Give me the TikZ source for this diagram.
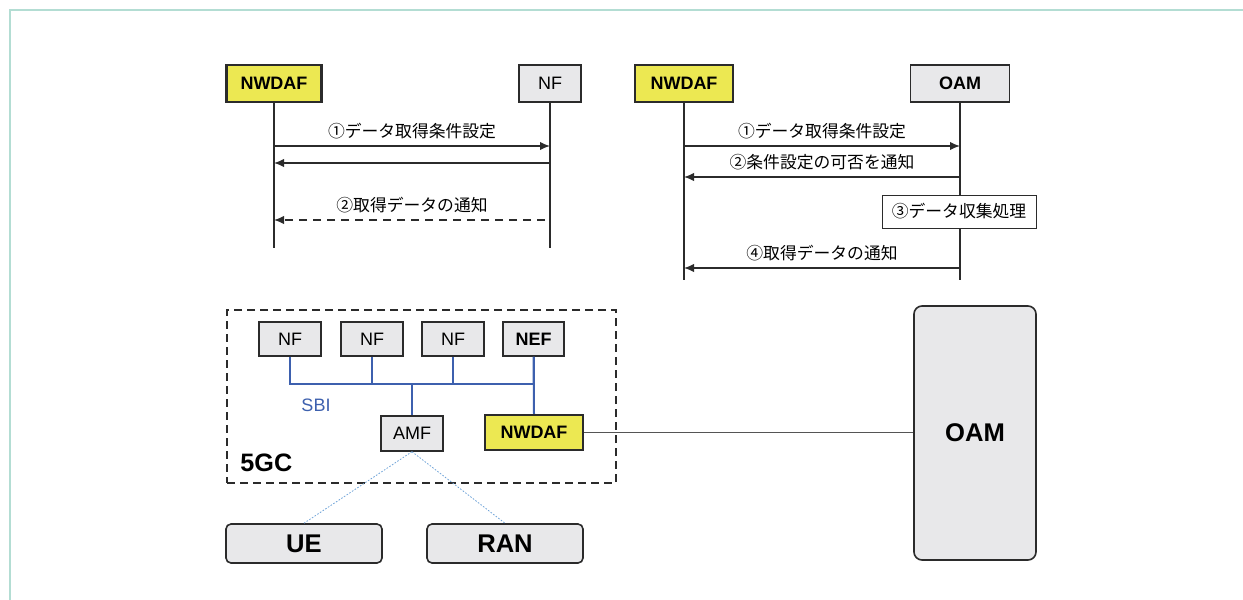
\documentclass[tikz,border=0pt]{standalone}
\usepackage{fontspec}
\setmainfont{Liberation Sans}
\newfontfamily\jp{Noto Sans CJK JP}
\usetikzlibrary{arrows.meta}
\definecolor{nwyellow}{HTML}{ECE852}
\definecolor{nfgray}{HTML}{E8E8EA}
\definecolor{edge}{HTML}{2B2B2B}
\definecolor{sbiblue}{HTML}{3D60AE}
\definecolor{linkblue}{HTML}{6FA3D8}
\definecolor{framegreen}{HTML}{B3DDD3}

\begin{document}
\begin{tikzpicture}[x=0.5pt, y=-0.5pt, >={Latex[length=5pt,width=4.2pt]},
    box/.style={draw=edge, line width=0.7pt, fill=nfgray, inner sep=0pt,
        font=\fontsize{9}{10}\selectfont},
    hl/.style={box, fill=nwyellow, line width=1.1pt, font=\fontsize{9}{10}\selectfont\bfseries},
    bold/.style={font=\fontsize{9}{10}\selectfont\bfseries},
    term/.style={draw=edge, line width=0.8pt, fill=nfgray, rounded corners=2.5pt,
        inner sep=0pt, font=\fontsize{12.8}{14}\selectfont\bfseries},
    life/.style={draw=edge, line width=0.55pt},
    msg/.style={->, draw=edge, line width=0.7pt},
    jlbl/.style={font=\jp\fontsize{8.4}{9}\selectfont, inner sep=1.3pt, above=2pt},
    sbi/.style={draw=sbiblue, line width=1pt},
    radio/.style={draw=linkblue, line width=0.4pt, dash pattern=on 0.8pt off 0.8pt},
    oamlink/.style={draw=edge!80, line width=0.5pt}]
  \useasboundingbox (0,0) rectangle (1243,600);
  \draw[framegreen, line width=1pt] (1243,10) -- (10,10) -- (10,600);

  \node[hl, minimum width=47.5pt, minimum height=18.5pt] (nwdafA) at (274,83.5) {NWDAF};
  \node[box, minimum width=31pt, minimum height=18.5pt] (nfA) at (550,83.5) {NF};
  \coordinate (nwdafAend) at (274,248);
  \coordinate (nfAend) at (550,248);
  \draw[life] (nwdafA) -- (nwdafAend);
  \draw[life] (nfA) -- (nfAend);
  \draw[msg] (nwdafA |- 0,146) -- (nfA |- 0,146) node[jlbl, midway] {①データ取得条件設定};
  \draw[msg] (nfA |- 0,163) -- (nwdafA |- 0,163);
  \draw[msg, dash pattern=on 4pt off 3pt, shorten <=2.5pt] (nfA |- 0,220) -- (nwdafA |- 0,220)
    node[jlbl, midway] {②取得データの通知};

  \node[hl, minimum width=49pt, minimum height=18.5pt] (nwdafB) at (684,83.5) {NWDAF};
  \node[box, bold, minimum width=49.5pt, minimum height=18.5pt] (oamA) at (960,83.5) {OAM};
  \coordinate (nwdafBend) at (684,280);
  \coordinate (oamAend) at (960,280);
  \draw[life] (nwdafB) -- (nwdafBend);
  \draw[life] (oamA) -- (oamAend);
  \draw[msg] (nwdafB |- 0,146) -- (oamA |- 0,146) node[jlbl, midway] {①データ取得条件設定};
  \draw[msg] (oamA |- 0,177) -- (nwdafB |- 0,177) node[jlbl, midway] {②条件設定の可否を通知};
  \node[draw=edge, line width=0.5pt, fill=white, minimum width=77pt, minimum height=16.5pt,
    inner sep=0pt, font=\jp\fontsize{8.4}{9}\selectfont] (proc) at (959,211.5) {③データ収集処理};
  \draw[msg] (oamA |- 0,268) -- (nwdafB |- 0,268) node[jlbl, midway] {④取得データの通知};

  \node[draw=edge, line width=0.75pt, dash pattern=on 4pt off 2.5pt, minimum width=194.5pt,
    minimum height=86.5pt, inner sep=0pt] (core) at (421.5,396.5) {};
  \foreach \n/\x in {nfa/290, nfb/372, nfc/453}
    \node[box, minimum width=31pt, minimum height=17pt] (\n) at (\x,339) {NF};
  \node[box, bold, minimum width=30.5pt, minimum height=17pt] (nef) at (533.5,339) {NEF};
  \node[box, minimum width=31pt, minimum height=17.5pt] (amf) at (412,433.5) {AMF};
  \node[hl, minimum width=49pt, minimum height=17.5pt] (nwdafC) at (534,432.5) {NWDAF};
  \coordinate (bus) at (412,384);
  \draw[sbi] (nfa.south) |- (bus) -| (nef.south);
  \foreach \n in {nfb, nfc}
    \draw[sbi] (\n.south) -- (\n |- bus);
  \draw[sbi] (bus) -- (amf.north);
  \draw[sbi] (nef.south) -- (nwdafC.north);
  \node[text=sbiblue, font=\fontsize{9}{10}\selectfont] (sbilabel) at (316,405) {SBI};
  \node[anchor=west, inner sep=0pt, font=\fontsize{12.6}{14}\selectfont\bfseries] (corelabel)
    at (240,463) {5GC};

  \node[term, minimum width=78pt, minimum height=19.5pt] (ue) at (304,543.5) {UE};
  \node[term, minimum width=78pt, minimum height=19.5pt] (ran) at (505,543.5) {RAN};
  \draw[radio] (amf.south) -- (ue.north);
  \draw[radio] (amf.south) -- (ran.north);

  \node[term, rounded corners=4pt, minimum width=61pt, minimum height=127pt] (oamB)
    at (975,433) {OAM};
  \draw[oamlink] (nwdafC.east) -- (nwdafC.east -| oamB.west);
\end{tikzpicture}
\end{document}
